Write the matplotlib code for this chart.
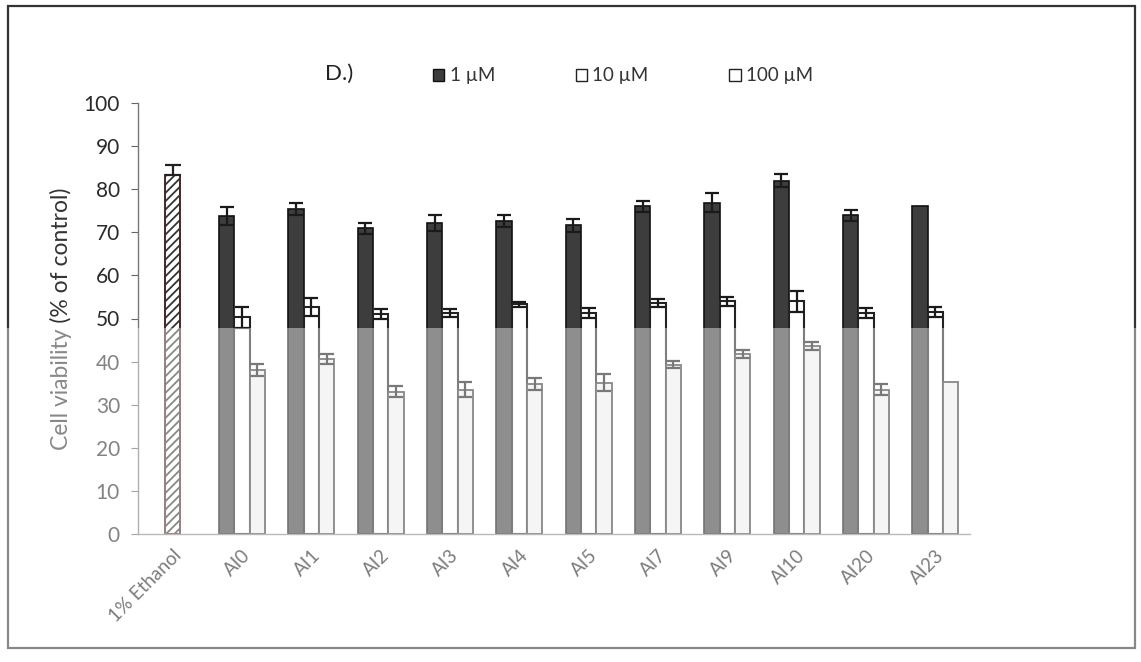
import matplotlib
matplotlib.use("Agg")
import matplotlib.pyplot as plt
import matplotlib.patches as mpatches
import numpy as np

categories = ["1% Ethanol", "AI0", "AI1", "AI2", "AI3", "AI4", "AI5", "AI7", "AI9", "AI10", "AI20", "AI23"]

ethanol_value = 83.4
ethanol_err = 2.3

compounds = categories[1:]
v1 = [73.8, 75.3, 70.9, 72.1, 72.7, 71.6, 76.0, 76.9, 82.0, 73.9, 76.2]
e1 = [2.0, 1.4, 1.2, 1.8, 1.4, 1.6, 1.3, 2.3, 1.6, 1.2, 0.0]
v10 = [50.3, 52.6, 51.0, 51.3, 53.3, 51.3, 53.6, 54.0, 54.0, 51.3, 51.5]
e10 = [2.4, 2.1, 1.2, 1.0, 0.6, 1.1, 1.0, 1.1, 2.4, 1.1, 1.2]
v100 = [38.1, 40.6, 33.0, 33.5, 34.9, 35.1, 39.3, 41.8, 43.6, 33.5, 35.3]
e100 = [1.4, 1.2, 1.3, 1.7, 1.4, 2.0, 0.9, 1.0, 0.9, 1.2, 0.0]

series_labels = ["1 \u00b5M", "10 \u00b5M", "100 \u00b5M"]

plt.rcParams['font.family'] = ['Lato', 'DejaVu Sans']
plt.rcParams['hatch.linewidth'] = 1.3

fig = plt.figure(figsize=(11.41, 6.62), dpi=100)
W, H = 1141, 662
ax = fig.add_axes([138 / W, 128 / H, (970 - 138) / W, (534 - 103) / H])

bw = 0.22
x = np.arange(1, len(categories))

# Ethanol bar (hatched)
ax.bar([0], [ethanol_value], bw, color='white', edgecolor='#333333', hatch='////',
       linewidth=0, zorder=2)
ax.bar([0], [ethanol_value], bw, fill=False, edgecolor='#4a2626', linewidth=1.4, zorder=2)
ax.errorbar([0], [ethanol_value], yerr=[[0], [ethanol_err]], fmt='none', ecolor='#222222',
            elinewidth=1.6, capsize=5.5, capthick=1.6, zorder=3)

b1 = ax.bar(x - bw, v1, bw, color='#3d3d3d', edgecolor='#111111', linewidth=1.2, zorder=2)
b2 = ax.bar(x, v10, bw, color='white', edgecolor='#222222', linewidth=1.5, zorder=2)
b3 = ax.bar(x + bw, v100, bw, color='#eeeeee', edgecolor='#333333', linewidth=1.3, zorder=2)

for xs, vs, es in [(x - bw, v1, e1), (x, v10, e10), (x + bw, v100, e100)]:
    xs_e = [xi for xi, ei in zip(xs, es) if ei > 0]
    vs_e = [vi for vi, ei in zip(vs, es) if ei > 0]
    es_e = [ei for ei in es if ei > 0]
    ax.errorbar(xs_e, vs_e, yerr=es_e, fmt='none', ecolor='#1a1a1a',
                elinewidth=1.6, capsize=5, capthick=1.6, zorder=3)

ax.set_xlim(-0.5, len(categories) - 0.5)
ax.set_ylim(0, 100)
ax.set_yticks(range(0, 101, 10))
ax.set_xticks(range(len(categories)))
ax.set_xticklabels(categories, rotation=45, ha='right', rotation_mode='anchor',
                   fontsize=13.5, color='#1e1e1e')
ax.tick_params(axis='x', length=0, pad=9)
ax.tick_params(axis='y', direction='out', length=5, color='#666666', labelsize=15,
               labelcolor='#2a2a2a', pad=8)

for s in ['top', 'right']:
    ax.spines[s].set_visible(False)
ax.spines['left'].set_color('#777777')
ax.spines['bottom'].set_color('#888888')
ax.spines['left'].set_linewidth(1.0)
ax.spines['bottom'].set_linewidth(1.0)

ax.set_ylabel("Cell viability (% of control)", fontsize=16.5, color='#333333', labelpad=8)

handles = [mpatches.Patch(facecolor='#3d3d3d', edgecolor='#111111'),
           mpatches.Patch(facecolor='white', edgecolor='#222222'),
           mpatches.Patch(facecolor='white', edgecolor='#222222')]
leg = ax.legend(handles, series_labels, loc='center', bbox_to_anchor=(0.583, 1.063),
                ncol=3, frameon=False, fontsize=13.5, handlelength=0.6, handleheight=0.6,
                handletextpad=0.3, columnspacing=4.3, labelcolor='#333333')

fig.text(339 / W, 1 - 74 / H, "D.)", fontsize=16, ha='center', va='center', color='#222222')

# outer frame of the scanned figure
fig.patches.append(mpatches.Rectangle((8 / W, 1 - 648 / H), (1135 - 8) / W, (648 - 6) / H,
                                      transform=fig.transFigure, fill=False,
                                      edgecolor='#333333', linewidth=1.6, zorder=0))

# scanned lighter lower band
fig.patches.append(mpatches.Rectangle((0, 0), 1, 1 - 328 / H, transform=fig.transFigure,
                                      facecolor='white', alpha=0.42, edgecolor='none',
                                      zorder=10))

fig.savefig("out.png", dpi=100)
